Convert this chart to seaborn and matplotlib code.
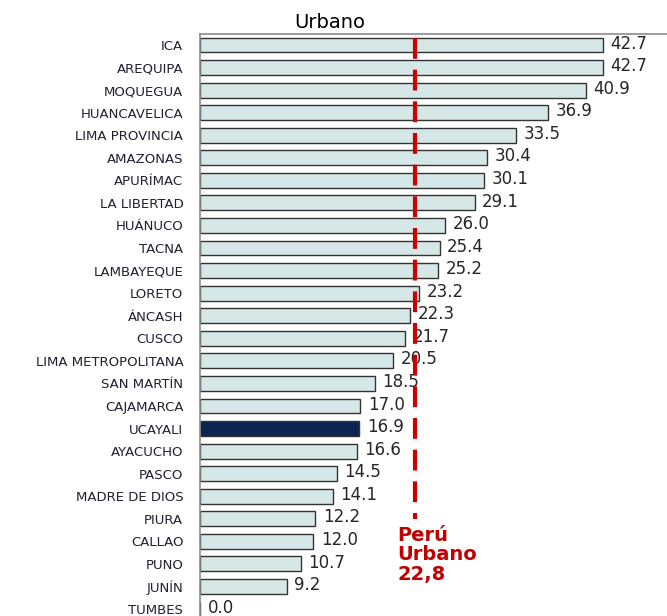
import numpy as np
import pandas as pd
import seaborn as sns
import matplotlib.pyplot as plt

departamentos = ["ICA", "AREQUIPA", "MOQUEGUA", "HUANCAVELICA", "LIMA PROVINCIA",
                 "AMAZONAS", "APURÍMAC", "LA LIBERTAD", "HUÁNUCO", "TACNA",
                 "LAMBAYEQUE", "LORETO", "ÁNCASH", "CUSCO", "LIMA METROPOLITANA",
                 "SAN MARTÍN", "CAJAMARCA", "UCAYALI", "AYACUCHO", "PASCO",
                 "MADRE DE DIOS", "PIURA", "CALLAO", "PUNO", "JUNÍN", "TUMBES"]
valores = [42.7, 42.7, 40.9, 36.9, 33.5, 30.4, 30.1, 29.1, 26.0, 25.4,
           25.2, 23.2, 22.3, 21.7, 20.5, 18.5, 17.0, 16.9, 16.6, 14.5,
           14.1, 12.2, 12.0, 10.7, 9.2, 0.0]
destacado = "UCAYALI"
peru_urbano = 22.8

df = pd.DataFrame({"dep": departamentos, "valor": valores})
colores = {d: ("#002060" if d == destacado else "#d3eaea") for d in departamentos}

sns.set_style("white")
fig = plt.figure(figsize=(6.67, 6.16), dpi=100)
ax = fig.add_axes([200 / 667, -4.3 / 616, 467 / 667, 586.6 / 616])

sns.barplot(data=df, x="valor", y="dep", hue="dep", palette=colores, legend=False,
            orient="h", width=0.66, edgecolor="#333333", linewidth=1.0, ax=ax)

ax.set_xlim(0, 49.5)
ax.set_ylim(25.5, -0.5)
ax.set_xlabel("")
ax.set_ylabel("")
ax.set_xticks([])

# etiquetas de valor
for i, v in enumerate(valores):
    ax.text(v + 0.8, i - 0.06, f"{v:.1f}", va="center", ha="left", fontsize=12, color="#262626")

ax.tick_params(axis="y", which="major", length=0, pad=12, labelsize=9.5, labelcolor="#20202e")
ax.set_yticks(np.arange(-0.5, 26, 1), minor=True)
ax.tick_params(axis="y", which="minor", length=5, color="#8c8c8c", width=1)

for s in ["right", "bottom"]:
    ax.spines[s].set_visible(False)
for s in ["left", "top"]:
    ax.spines[s].set_color("#8c8c8c")
    ax.spines[s].set_linewidth(1.2)

# promedio nacional urbano
ax.plot([peru_urbano, peru_urbano], [-0.3, 21.0], color="#cc0000", lw=3,
        dashes=(5, 2.6), zorder=5)
ax.text(20.9, 21.3, "Perú\nUrbano\n22,8", color="#c00000", fontsize=14,
        fontweight="bold", ha="left", va="top", linespacing=1.05)

fig.text(330 / 667, 1 - 22 / 616, "Urbano", ha="center", va="center", fontsize=14, color="black")

fig.savefig("out.png", dpi=100)
